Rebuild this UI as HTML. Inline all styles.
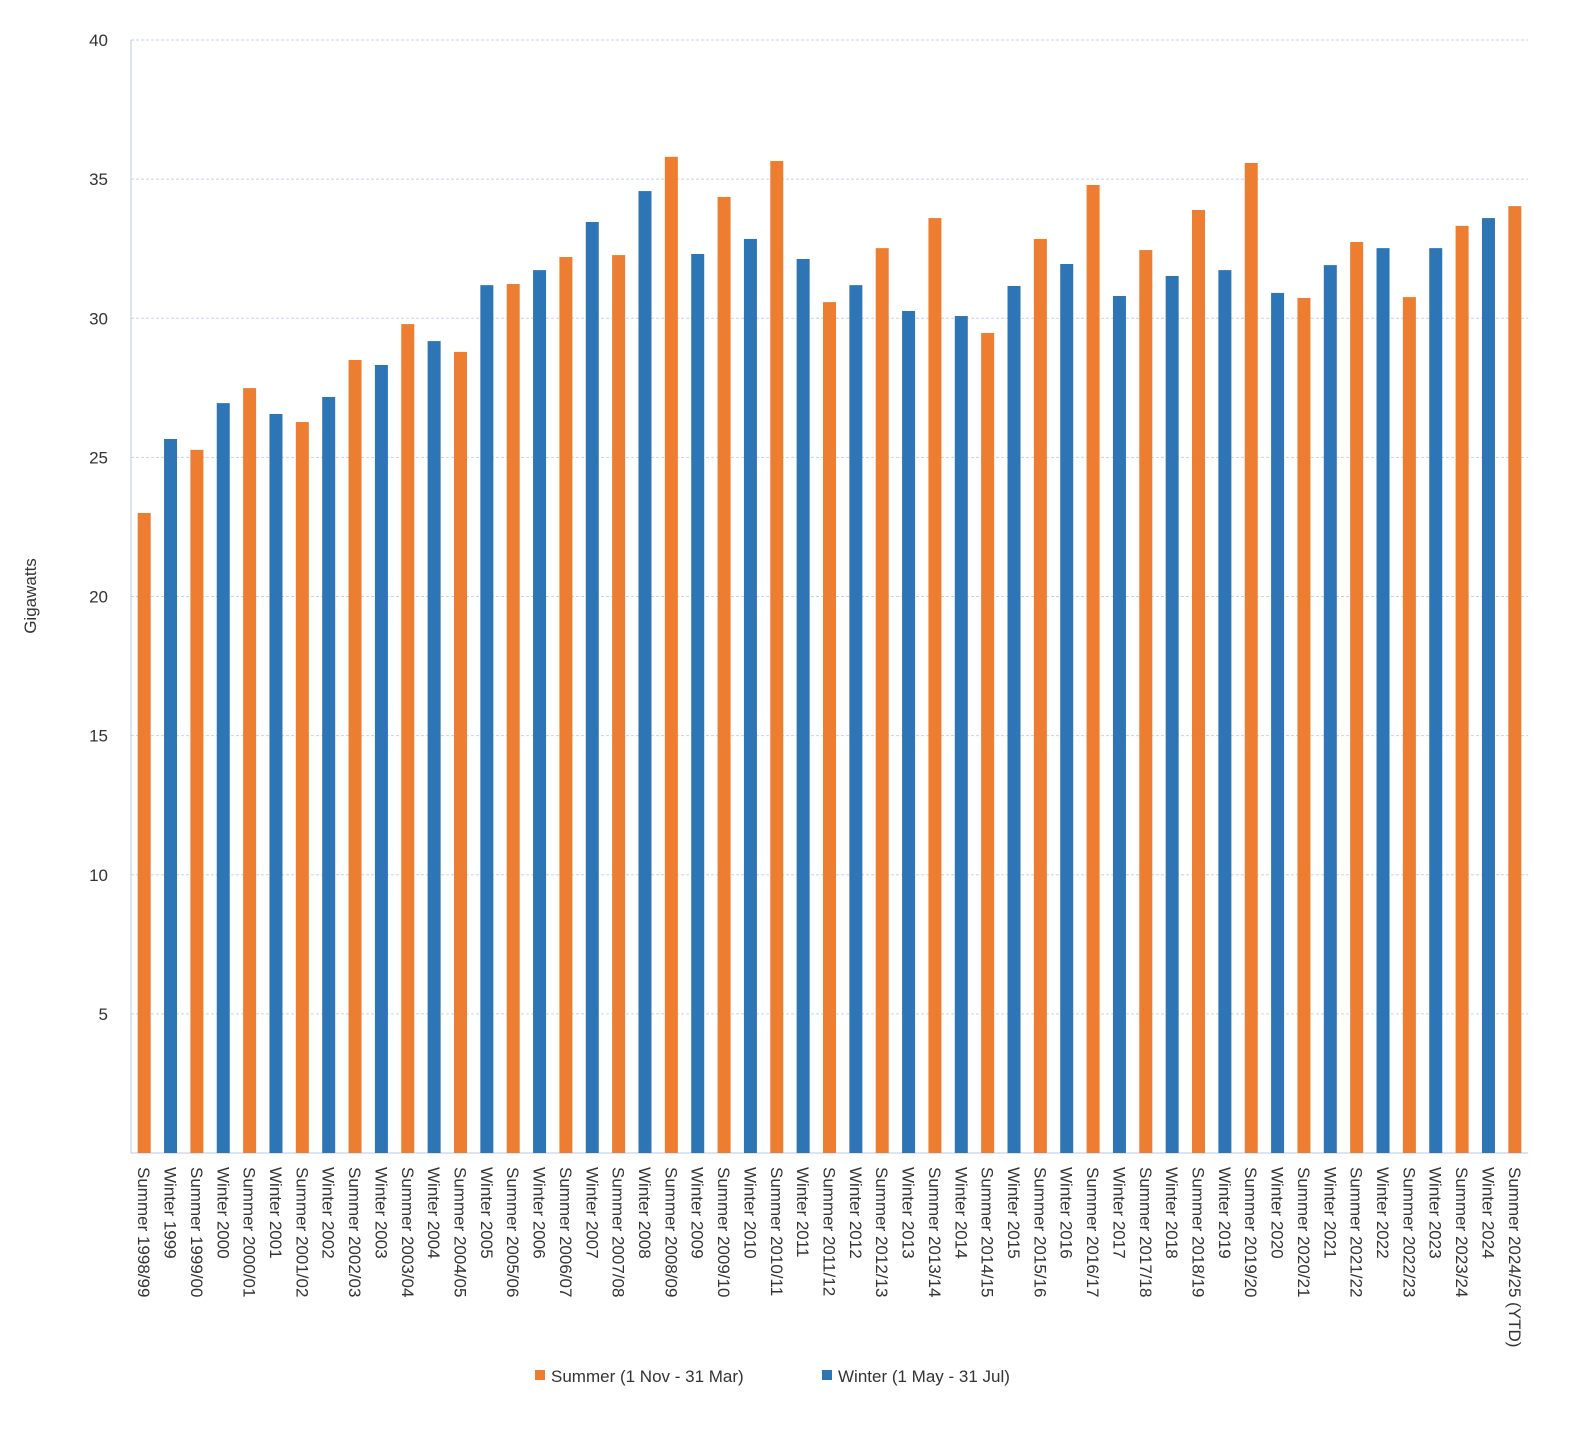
<!DOCTYPE html>
<html><head><meta charset="utf-8"><style>
body{margin:0;background:#fff;font-family:"Liberation Sans",sans-serif;}
svg text{font-family:"Liberation Sans",sans-serif;fill:#333;}
</style></head><body>
<svg id="chart" width="1595" height="1424" xmlns="http://www.w3.org/2000/svg"></svg>
<script>
const categories=["Summer 1998/99","Winter 1999","Summer 1999/00","Winter 2000","Summer 2000/01","Winter 2001","Summer 2001/02","Winter 2002","Summer 2002/03","Winter 2003","Summer 2003/04","Winter 2004","Summer 2004/05","Winter 2005","Summer 2005/06","Winter 2006","Summer 2006/07","Winter 2007","Summer 2007/08","Winter 2008","Summer 2008/09","Winter 2009","Summer 2009/10","Winter 2010","Summer 2010/11","Winter 2011","Summer 2011/12","Winter 2012","Summer 2012/13","Winter 2013","Summer 2013/14","Winter 2014","Summer 2014/15","Winter 2015","Summer 2015/16","Winter 2016","Summer 2016/17","Winter 2017","Summer 2017/18","Winter 2018","Summer 2018/19","Winter 2019","Summer 2019/20","Winter 2020","Summer 2020/21","Winter 2021","Summer 2021/22","Winter 2022","Summer 2022/23","Winter 2023","Summer 2023/24","Winter 2024","Summer 2024/25 (YTD)"];
const values=[23.0,25.66,25.27,26.95,27.49,26.56,26.27,27.17,28.5,28.32,29.79,29.18,28.79,31.19,31.23,31.73,32.2,33.46,32.27,34.57,35.8,32.31,34.36,32.85,35.65,32.13,30.58,31.19,32.52,30.26,33.6,30.08,29.47,31.16,32.85,31.95,34.79,30.8,32.45,31.52,33.89,31.73,35.58,30.91,30.73,31.91,32.74,32.52,30.76,32.52,33.32,33.6,34.03];
const yTicks=[5,10,15,20,25,30,35,40];
const ORANGE="#ED7D31",BLUE="#2E75B6";
const svg=document.getElementById('chart');
const NS="http://www.w3.org/2000/svg";
const L=131,R=1528,T=40,B=1153,yMax=40;
const y=v=>B-(v/yMax)*(B-T);
const bw=(R-L)/categories.length;
const x=i=>L+bw*i+bw/2;
function mk(t,a){const e=document.createElementNS(NS,t);for(const k in a)e.setAttribute(k,a[k]);svg.appendChild(e);return e;}
yTicks.forEach(t=>{
 const g=mk('line',{x1:L,x2:R,y1:y(t),y2:y(t),stroke:'#c5d3ea','stroke-dasharray':'3,2','stroke-width':1});
 
 
 const tx=mk('text',{x:108,y:y(t)+6,'text-anchor':'end','font-size':17});
 tx.textContent=t;
 
 
});
const ax=mk('line',{x1:L,x2:L,y1:T,y2:B,stroke:'#b8c8e0','stroke-width':1});


const bx=mk('line',{x1:L,x2:R,y1:B,y2:B,stroke:'#b8c8e0','stroke-width':1});


categories.forEach((c,i)=>{
 const summer=c.startsWith('Summer');
 const r=mk('rect',{x:x(i)-6.5,y:y(values[i]),width:13,height:B-y(values[i]),fill:summer?ORANGE:BLUE});
 
 
 const t=mk('text',{x:0,y:0,'font-size':17,transform:`translate(${x(i)-6},${B+14}) rotate(90)`});
 t.textContent=c;
 
 
});
const yt=mk('text',{x:0,y:0,'font-size':17,'text-anchor':'middle',transform:'translate(36,596) rotate(-90)'});
yt.textContent='Gigawatts';


const l1=mk('rect',{x:535,y:1370,width:10,height:10,fill:ORANGE});


const lt1=mk('text',{x:551,y:1382,'font-size':17});
lt1.textContent='Summer (1 Nov - 31 Mar)';


const l2=mk('rect',{x:822,y:1370,width:10,height:10,fill:BLUE});


const lt2=mk('text',{x:838,y:1382,'font-size':17});
lt2.textContent='Winter (1 May - 31 Jul)';


</script>
</body></html>
